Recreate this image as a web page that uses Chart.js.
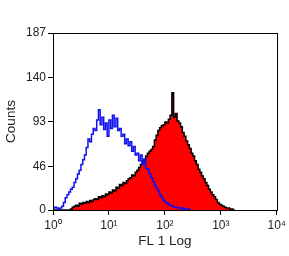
<!DOCTYPE html>
<html>
<head>
<meta charset="utf-8">
<script src="https://cdn.jsdelivr.net/npm/chart.js@4"></script>
<style>
  html, body { margin: 0; padding: 0; background: #fff; }
  #wrap { width: 289px; height: 256px; }
</style>
</head>
<body>
<div id="wrap"><canvas id="histo" width="289" height="256"></canvas></div>
<script>
// ========== FL1 HISTOGRAM ==========

// 128 channels over 4 log decades (32 channels per decade)
const channels = Array.from({ length: 128 }, (_, i) => i);

// Isotype control (blue outline)
const controlCounts = [
  2, 3, 2, 1, 2, 4, 8, 13, 16, 19,
  22, 24, 29, 33, 38, 42, 48, 53, 58, 66,
  75, 72, 80, 86, 84, 95, 106, 90, 98, 85,
  92, 78, 95, 86, 100, 88, 97, 84, 86, 78,
  80, 70, 75, 68, 72, 62, 67, 58, 60, 52,
  58, 48, 54, 44, 43, 38, 34, 30, 26, 23,
  20, 16, 13, 10, 8, 7, 5, 5, 4, 3,
  3, 2, 2, 1, 2, 1, 1, 1, 0, 0
];

// Stained sample (red fill, black outline)
const sampleCounts = [
  0, 0, 0, 0, 0, 0, 0, 0, 0, 0,
  1, 3, 4, 5, 4, 7, 6, 8, 7, 9,
  8, 10, 9, 11, 12, 11, 14, 13, 15, 14,
  17, 16, 19, 18, 21, 20, 24, 23, 27, 26,
  29, 28, 31, 33, 34, 37, 36, 40, 42, 45,
  48, 52, 53, 57, 60, 62, 64, 67, 74, 79,
  84, 87, 89, 90, 93, 92, 96, 100, 124, 98,
  102, 94, 92, 88, 82, 78, 73, 69, 65, 60,
  57, 52, 48, 43, 40, 36, 33, 29, 26, 22,
  19, 16, 14, 11, 8, 6, 5, 4, 3, 2,
  2, 1, 1, 0, 0
];

const yTicks = [0, 46, 93, 140, 187];
const xTickLabels = ['10\u2070', '10\u00b9', '10\u00b2', '10\u00b3', '10\u2074'];

const toPoints = (counts) => counts.map((c, i) => ({ x: channels[i], y: c }));

// Cadre autour de la zone de tracé
const frame = {
  id: 'frame',
  afterDraw(chart) {
    const { ctx, chartArea: a } = chart;
    ctx.save();
    ctx.strokeStyle = '#000';
    ctx.lineWidth = 1;
    ctx.strokeRect(Math.round(a.left) + 0.5, Math.round(a.top) + 0.5,
      Math.round(a.right - a.left), Math.round(a.bottom - a.top));
    ctx.restore();
  }
};

const family = 'Liberation Sans, Arial, sans-serif';
const tickFont = { family: family, size: 12 };
const titleFont = { family: family, size: 13.5 };

new Chart(document.getElementById('histo').getContext('2d'), {
  type: 'line',
  data: {
    datasets: [
      {
        label: 'Control',
        data: toPoints(controlCounts),
        borderColor: '#1010f0',
        borderWidth: 1.5,
        stepped: true,
        fill: false,
        pointRadius: 0,
        order: 0
      },
      {
        label: 'FL1',
        data: toPoints(sampleCounts),
        borderColor: '#000',
        backgroundColor: '#ff0000',
        borderWidth: 1.5,
        stepped: true,
        fill: 'origin',
        pointRadius: 0,
        order: 1
      }
    ]
  },
  options: {
    responsive: false,
    animation: false,
    layout: { padding: { left: 0, right: 11, top: 33, bottom: 0 } },
    plugins: {
      legend: { display: false },
      tooltip: { enabled: false }
    },
    scales: {
      x: {
        type: 'linear',
        min: 0,
        max: 128,
        afterBuildTicks: (s) => { s.ticks = [0, 32, 64, 96, 128].map(v => ({ value: v })); },
        afterFit: (s) => { s.height = 46; },
        ticks: {
          color: '#222',
          font: tickFont,
          padding: 3,
          maxRotation: 0,
          callback: (v) => xTickLabels[Math.round(v / 32)]
        },
        grid: { display: true, drawOnChartArea: false, drawTicks: true, tickLength: 5, color: '#000' },
        border: { display: true, color: '#000' },
        title: { display: true, text: 'FL 1 Log', color: '#222', font: titleFont, padding: { top: 0, bottom: 7 } }
      },
      y: {
        min: 0,
        max: 187,
        afterBuildTicks: (s) => { s.ticks = yTicks.map(v => ({ value: v })); },
        afterFit: (s) => { s.width = 53; },
        ticks: { color: '#222', font: tickFont, padding: 2 },
        grid: { display: true, drawOnChartArea: false, drawTicks: true, tickLength: 5, color: '#000' },
        border: { display: true, color: '#000' },
        title: { display: true, text: 'Counts', color: '#222', font: titleFont, padding: { top: 3, bottom: 0 } }
      }
    }
  },
  plugins: [frame]
});
</script>
</body>
</html>
